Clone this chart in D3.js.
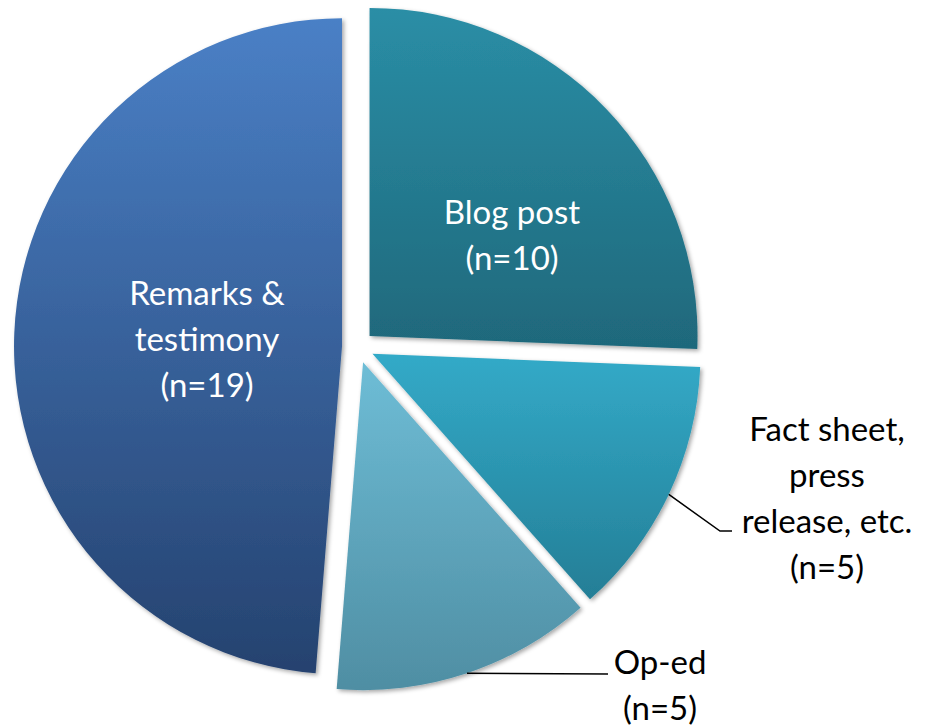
<!DOCTYPE html>
<html>
<head>
<meta charset="utf-8">
<script src="https://d3js.org/d3.v7.min.js"></script>
<style>
  body { margin: 0; background: #fff; }
  text { font-family: Lato, "Open Sans", sans-serif; }
</style>
</head>
<body>
<div id="chart"></div>
<script>
const categories = ["Blog post", "Fact sheet, press release, etc.", "Op-ed", "Remarks & testimony"]
const counts = [10, 5, 5, 19]
const labelLines = [
    ["Blog post", "(n=10)"],
    ["Fact sheet,", "press", "release, etc.", "(n=5)"],
    ["Op-ed", "(n=5)"],
    ["Remarks &", "testimony", "(n=19)"]
]
const topColors = ["#2a8ea6", "#33aac8", "#6ebdd6", "#4a80c6"]
const bottomColors = ["#1f687b", "#247e96", "#4f8ea3", "#25426f"]

const width = 928, height = 727
const cx = 358, cy = 347, r = 328, explode = 16

const svg = d3.select("#chart")
    .append("svg")
    .attr("width", width)
    .attr("height", height)

const defs = svg.append("defs")

const shadow = defs.append("filter")
    .attr("id", "shadow")
    .attr("x", "-10%").attr("y", "-10%")
    .attr("width", "120%").attr("height", "120%")
shadow.append("feDropShadow")
    .attr("dx", 2).attr("dy", 2)
    .attr("stdDeviation", 2)
    .attr("flood-color", "#000")
    .attr("flood-opacity", 0.35)

categories.forEach((c, i) => {
    const g = defs.append("linearGradient")
        .attr("id", `grad-${i}`)
        .attr("x1", 0).attr("y1", 0)
        .attr("x2", 0).attr("y2", 1)
    g.append("stop").attr("offset", "0%").attr("stop-color", topColors[i])
    g.append("stop").attr("offset", "100%").attr("stop-color", bottomColors[i])
})

const pie = d3.pie().sort(null)
const arcs = pie(counts)
const arc = d3.arc().innerRadius(0).outerRadius(r)

// offset of each exploded slice along its mid angle
const shift = d => {
    const a = (d.startAngle + d.endAngle) / 2
    return [cx + explode * Math.sin(a), cy - explode * Math.cos(a)]
}

svg.append("g")
    .selectAll("path")
    .data(arcs)
    .enter()
    .append("path")
        .attr("transform", d => `translate(${shift(d)})`)
        .attr("d", arc)
        .attr("fill", (d, i) => `url(#grad-${i})`)
        .attr("filter", "url(#shadow)")

// leader lines for the outside labels
const leaders = [
    null,
    {elbow: [720, 531], end: [732, 531]},
    {elbow: [608, 674], end: [608, 674]},
    null
]

leaders.forEach((l, i) => {
    if (!l) return
    const d = arcs[i]
    const a = (d.startAngle + d.endAngle) / 2
    const [sx, sy] = shift(d)
    const p0 = [sx + r * Math.sin(a), sy - r * Math.cos(a)]
    svg.append("path")
        .attr("d", d3.line()([p0, l.elbow, l.end]))
        .attr("fill", "none")
        .attr("stroke", "#000")
        .attr("stroke-width", 1.5)
})

const labelPos = [
    {x: 512, y: 212, color: "#fff"},
    {x: 827, y: 429, color: "#000"},
    {x: 660, y: 662, color: "#000"},
    {x: 207, y: 293, color: "#fff"}
]
const lineGap = 46

labelLines.forEach((lines, i) => {
    const p = labelPos[i]
    svg.append("text")
        .attr("text-anchor", "middle")
        .attr("fill", p.color)
        .attr("font-size", 33)
        .selectAll("tspan")
        .data(lines)
        .enter()
        .append("tspan")
            .attr("x", p.x)
            .attr("y", (d, j) => p.y + j * lineGap)
            .attr("dy", "0.35em")
            .text(d => d)
})
</script>
</body>
</html>
